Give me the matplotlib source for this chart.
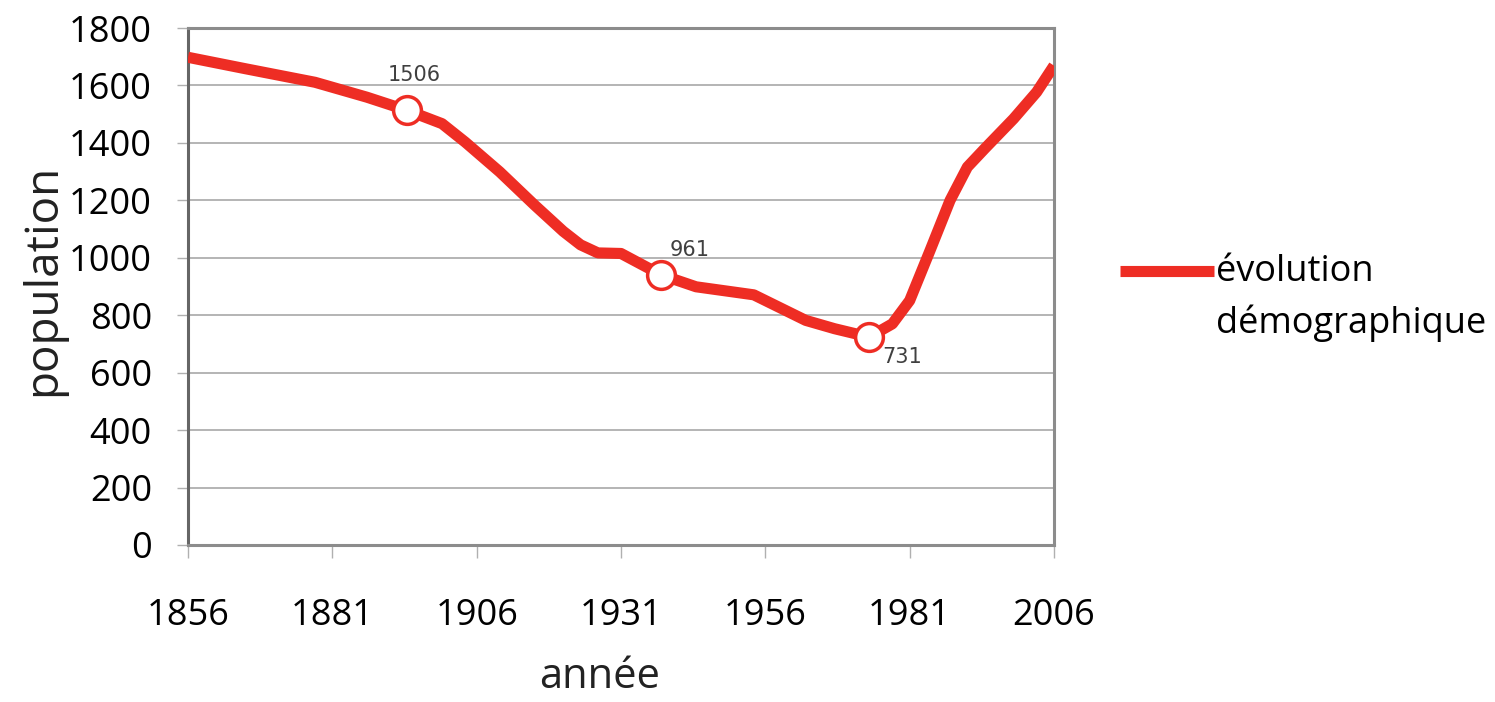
import matplotlib
matplotlib.use("Agg")
import matplotlib.pyplot as plt
from matplotlib import font_manager

# population curve
years = [1856, 1866, 1878, 1887, 1894, 1900, 1904, 1910, 1916, 1921, 1924, 1927, 1931,
         1938, 1944, 1954, 1963, 1968, 1974, 1978, 1981, 1984.5, 1988, 1991, 1994,
         1999, 2003, 2006]
population = [1698, 1658, 1611, 1559, 1513, 1467, 1403, 1299, 1184, 1092, 1045, 1017, 1015,
              940, 899, 871, 782, 753, 724, 770, 851, 1024, 1200, 1316, 1380,
              1484, 1577, 1669]

# highlighted points and their labels
mark_years = [1894, 1938, 1974]
mark_values = [1513, 940, 724]
mark_labels = ["1506", "961", "731"]

xticks = [1856, 1881, 1906, 1931, 1956, 1981, 2006]
yticks = list(range(0, 1801, 200))

names = {f.name for f in font_manager.fontManager.ttflist}
text_font = "Open Sans" if "Open Sans" in names else "DejaVu Sans"
tick_font = text_font

red = "#ee2d24"

fig = plt.figure(figsize=(14.95, 7.02), dpi=100)
ax = fig.add_axes([188 / 1495, 1 - 545 / 702, (1054 - 188) / 1495, (545 - 28) / 702])

line, = ax.plot(years, population, color=red, lw=8, solid_joinstyle="round",
                solid_capstyle="butt", label="évolution\ndémographique", zorder=3)
ax.plot(mark_years, mark_values, ls="none", marker="o", ms=20, mfc="white",
        mec=red, mew=2.5, zorder=4)

offsets = [((5, 18), "center", "bottom"), ((6, 11), "left", "bottom"), ((9, -7), "left", "top")]
for x, y, s, (off, ha, va) in zip(mark_years, mark_values, mark_labels, offsets):
    ax.annotate(s, (x, y), xytext=off, textcoords="offset points", ha=ha, va=va,
                fontsize=15, color="#404040", family="DejaVu Sans", zorder=5)

ax.set_xlim(1856, 2006)
ax.set_ylim(0, 1800)
ax.set_xticks(xticks)
ax.set_yticks(yticks)
ax.grid(axis="y", color="#a8a8a8", lw=1.2)
ax.set_axisbelow(True)

for lab in ax.get_xticklabels() + ax.get_yticklabels():
    lab.set_family(tick_font)
    lab.set_fontsize(26)
ax.tick_params(axis="x", direction="out", length=9, width=1, color="#b0b0b0", pad=29)
ax.tick_params(axis="y", direction="out", length=8, width=1, color="#b0b0b0", pad=18)

for side in ["top", "right", "bottom"]:
    ax.spines[side].set_color("#8c8c8c")
    ax.spines[side].set_linewidth(2.2)
ax.spines["left"].set_color("#666666")
ax.spines["left"].set_linewidth(2.2)

ax.set_xlabel("année", family=text_font, fontsize=30, color="#222222")
ax.set_ylabel("population", family=text_font, fontsize=33, color="#222222")
ax.xaxis.set_label_coords((600 - 188) / 866, -(656 - 545) / 517)
ax.yaxis.set_label_coords(-(188 - 66) / 866, (545 - 280) / 517)

leg = ax.legend(handles=[line], loc="center left", bbox_to_anchor=(1120 / 1495, 1 - 298 / 702),
                bbox_transform=fig.transFigure, frameon=False, handlelength=2.6,
                handletextpad=0.05, borderpad=0, borderaxespad=0,
                prop={"family": text_font, "size": 26})
for t in leg.get_texts():
    t.set_linespacing(1.5)
# put the legend line next to the first text line
h = leg.legend_handles[0]
h.set_ydata([y + 20 for y in h.get_ydata()])

fig.savefig("out.png", dpi=100, facecolor="white")
